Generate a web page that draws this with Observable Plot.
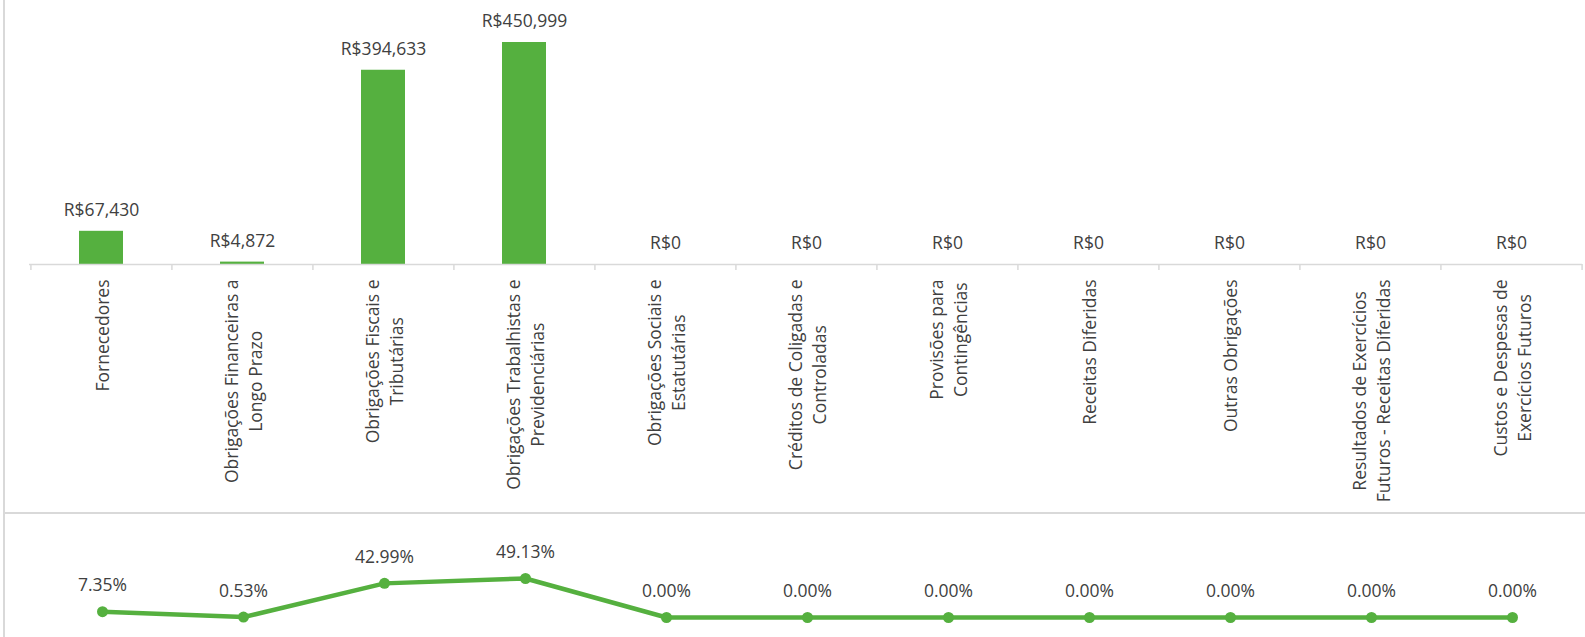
<!DOCTYPE html>
<html>
<head>
<meta charset="utf-8">
<script src="https://cdn.jsdelivr.net/npm/d3@7"></script>
<script src="https://cdn.jsdelivr.net/npm/@observablehq/plot@0.6"></script>
<style>
  html, body { margin: 0; padding: 0; background: #fff; overflow: hidden; }
  #wrap { position: relative; width: 1585px; height: 637px; }
  #wrap svg { display: block; }
  .vline { position: absolute; left: 3px; top: 0; width: 2px; height: 637px; background: #d9d9d9; }
  .hline { position: absolute; left: 3px; top: 512px; width: 1582px; height: 2px; background: #d9d9d9; }
</style>
</head>
<body>
<div id="wrap"><div class="vline"></div><div class="hline"></div></div>
<script>
const categories = [
  "Fornecedores",
  "Obrigações Financeiras a Longo Prazo",
  "Obrigações Fiscais e Tributárias",
  "Obrigações Trabalhistas e Previdenciárias",
  "Obrigações Sociais e Estatutárias",
  "Créditos de Coligadas e Controladas",
  "Provisões para Contingências",
  "Receitas Diferidas",
  "Outras Obrigações",
  "Resultados de Exercícios Futuros - Receitas Diferidas",
  "Custos e Despesas de Exercícios Futuros"
];
const tickLabels = [
  "Fornecedores",
  "Obrigações Financeiras a\nLongo Prazo",
  "Obrigações Fiscais e\nTributárias",
  "Obrigações Trabalhistas e\nPrevidenciárias",
  "Obrigações Sociais e\nEstatutárias",
  "Créditos de Coligadas e\nControladas",
  "Provisões para\nContingências",
  "Receitas Diferidas",
  "Outras Obrigações",
  "Resultados de Exercícios\nFuturos - Receitas Diferidas",
  "Custos e Despesas de\nExercícios Futuros"
];
const values = [67430, 4872, 394633, 450999, 0, 0, 0, 0, 0, 0, 0];
const shares = [7.35, 0.53, 42.99, 49.13, 0, 0, 0, 0, 0, 0, 0];

const green = "#55B03F";
const textColor = "#404040";
const font = "'Open Sans', sans-serif";
const fs = 17.5;

const rows = categories.map((c, i) => ({cat: c, label: tickLabels[i], value: values[i], share: shares[i]}));
const fmtMoney = v => "R$" + d3.format(",")(v);

const W = 1585, H1 = 513, mL = 29, mR = 3, mT = 42, mB = 249;
const step = (W - mL - mR) / categories.length;
const innerH = H1 - mT - mB;

const barChart = Plot.plot({
  width: W, height: H1,
  marginLeft: mL, marginRight: mR, marginTop: mT, marginBottom: mB,
  style: {fontFamily: font, fontSize: fs + "px", color: textColor, background: "transparent", overflow: "visible"},
  x: {domain: categories, paddingInner: 0.69, paddingOuter: 0.345, axis: null},
  y: {domain: [0, d3.max(values)], axis: null},
  marks: [
    Plot.barY(rows, {x: "cat", y: "value", fill: green}),
    Plot.ruleY([0], {stroke: "#d9d9d9", strokeWidth: 1.5}),
    Plot.ruleX(categories, {x: d => d, dx: -step / 2, insetTop: innerH, insetBottom: -6, stroke: "#d9d9d9", strokeWidth: 1.5}),
    Plot.ruleX(categories.slice(-1), {x: d => d, dx: step / 2, insetTop: innerH, insetBottom: -6, stroke: "#d9d9d9", strokeWidth: 1.5}),
    Plot.text(rows, {x: "cat", y: "value", text: d => fmtMoney(d.value), dy: -21, lineAnchor: "middle", fill: textColor, fontSize: fs}),
    Plot.text(rows, {x: "cat", text: "label", frameAnchor: "bottom", dy: 15, rotate: -90, textAnchor: "end", lineAnchor: "middle", lineHeight: 1.33, fill: textColor, fontSize: fs})
  ]
});

const lineChart = Plot.plot({
  width: W, height: 637 - H1,
  marginLeft: 98, marginRight: 70, marginTop: 65, marginBottom: 20,
  style: {fontFamily: font, fontSize: fs + "px", color: textColor, background: "transparent", overflow: "visible"},
  x: {type: "point", domain: categories, padding: 0, axis: null},
  y: {domain: [0, d3.max(shares)], axis: null},
  marks: [
    Plot.line(rows, {x: "cat", y: "share", stroke: green, strokeWidth: 4.5}),
    Plot.dot(rows, {x: "cat", y: "share", r: 5.5, fill: green}),
    Plot.text(rows, {x: "cat", y: "share", text: d => d.share.toFixed(2) + "%", dy: -26, lineAnchor: "middle", fill: textColor, fontSize: fs})
  ]
});

const wrap = document.getElementById("wrap");
wrap.appendChild(barChart);
wrap.appendChild(lineChart);

// center wrapped lines along the longest line (Excel-style rotated labels)
barChart.querySelectorAll("text").forEach(t => {
  const spans = t.querySelectorAll("tspan");
  if (spans.length > 1) {
    let L = 0;
    spans.forEach(s => { L = Math.max(L, s.getComputedTextLength()); });
    t.setAttribute("text-anchor", "middle");
    t.style.textAnchor = "middle";
    spans.forEach(s => s.setAttribute("x", -L / 2));
  }
});
</script>
</body>
</html>
